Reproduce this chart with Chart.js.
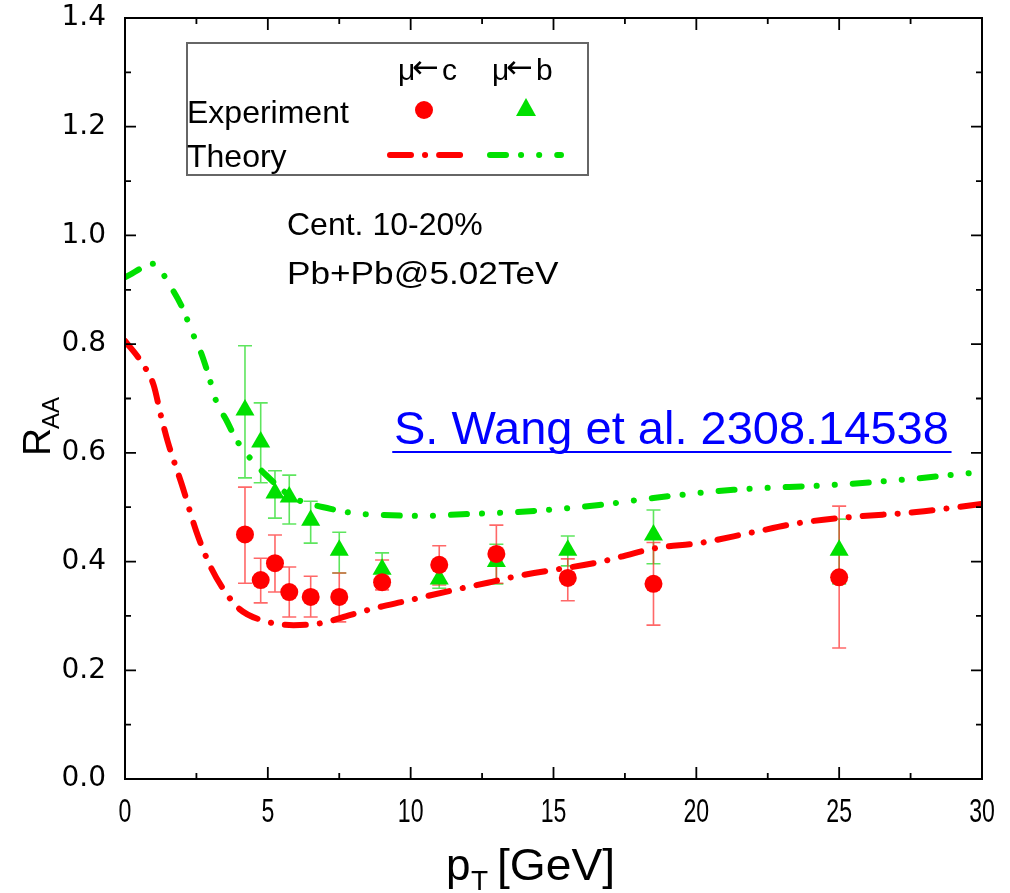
<!DOCTYPE html>
<html>
<head>
<meta charset="utf-8">
<script src="https://cdn.jsdelivr.net/npm/chart.js@4.4.1/dist/chart.umd.min.js"></script>
<style>
  html, body { margin: 0; padding: 0; background: #fff; }
  #wrap { width: 1010px; height: 893px; position: relative; }
</style>
</head>
<body>
<div id="wrap"><canvas id="raaChart" width="1010" height="893"></canvas></div>
<script>
// ---- data ----
const ptExp = [4.2, 4.75, 5.25, 5.75, 6.5, 7.5, 9, 11, 13, 15.5, 18.5, 25];

// mu <- c (red circles)
const raaC   = [0.450, 0.366, 0.397, 0.344, 0.335, 0.335, 0.362, 0.394, 0.414, 0.370, 0.359, 0.371];
const raaCHi = [0.537, 0.406, 0.449, 0.390, 0.373, 0.379, 0.403, 0.429, 0.467, 0.405, 0.435, 0.502];
const raaCLo = [0.360, 0.324, 0.344, 0.298, 0.298, 0.289, 0.348, 0.357, 0.360, 0.328, 0.283, 0.241];

// mu <- b (green triangles)
const raaB   = [0.679, 0.620, 0.526, 0.519, 0.476, 0.421, 0.386, 0.368, 0.400, 0.421, 0.449, 0.421];
const raaBHi = [0.797, 0.692, 0.567, 0.559, 0.511, 0.454, 0.416, 0.392, 0.432, 0.447, 0.495, 0.478];
const raaBLo = [0.554, 0.545, 0.480, 0.469, 0.434, 0.379, 0.353, 0.351, 0.359, 0.392, 0.396, 0.359];

// theory curves
const ptThC  = [0, 0.6, 1.0, 1.25, 1.5, 2.0, 2.5, 3.0, 3.5, 4.0, 4.8, 5.9, 6.9, 7.9, 8.8, 9.8, 10.7, 11.8, 12.7, 13.7, 16.6, 18.6, 20.1, 21.9, 23.6, 25.4, 27.7, 30];
const raaThC = [0.806, 0.765, 0.725, 0.670, 0.620, 0.540, 0.455, 0.390, 0.345, 0.313, 0.292, 0.283, 0.287, 0.302, 0.315, 0.327, 0.338, 0.351, 0.361, 0.373, 0.399, 0.425, 0.434, 0.453, 0.471, 0.482, 0.491, 0.506];

const ptThB  = [0, 1.05, 1.5, 2.0, 2.35, 2.65, 2.9, 3.2, 3.55, 3.9, 4.5, 5.0, 5.5, 5.9, 7.2, 8.0, 8.9, 10.4, 11.8, 12.8, 13.7, 16.6, 18.5, 21.3, 24.8, 27.1, 30];
const raaThB = [0.923, 0.948, 0.914, 0.868, 0.822, 0.786, 0.747, 0.694, 0.660, 0.624, 0.583, 0.556, 0.532, 0.517, 0.497, 0.489, 0.486, 0.484, 0.487, 0.489, 0.491, 0.504, 0.517, 0.532, 0.541, 0.550, 0.565];

const xTicks = [0, 5, 10, 15, 20, 25, 30];
const yTicks = [0.0, 0.2, 0.4, 0.6, 0.8, 1.0, 1.2, 1.4];

const RED = '#ff0000';
const GREEN = '#00e000';
const FONT = '"Liberation Sans", Arial, sans-serif';

const pts = (xs, ys) => xs.map((x, i) => ({ x: x, y: ys[i] }));

// error bars under the markers
const errorBars = {
  id: 'errorBars',
  beforeDatasetsDraw(chart) {
    const { ctx, scales: { x, y } } = chart;
    const sets = [
      { lo: raaBLo, hi: raaBHi, color: 'rgba(40,220,40,0.75)' },
      { lo: raaCLo, hi: raaCHi, color: 'rgba(255,40,40,0.7)' }
    ];
    ctx.save();
    ctx.lineWidth = 1.6;
    sets.forEach(s => {
      ctx.strokeStyle = s.color;
      ptExp.forEach((pt, i) => {
        const px = x.getPixelForValue(pt);
        const y1 = y.getPixelForValue(s.lo[i]);
        const y2 = y.getPixelForValue(s.hi[i]);
        ctx.beginPath();
        ctx.moveTo(px, y1); ctx.lineTo(px, y2);
        ctx.moveTo(px - 7, y1); ctx.lineTo(px + 7, y1);
        ctx.moveTo(px - 7, y2); ctx.lineTo(px + 7, y2);
        ctx.stroke();
      });
    });
    ctx.restore();
  }
};

// box, inward ticks, x labels, legend and notes
const decor = {
  id: 'decor',
  afterDraw(chart) {
    const { ctx, chartArea: a, scales: { x, y } } = chart;
    ctx.save();
    ctx.strokeStyle = '#000';
    ctx.lineWidth = 2;
    ctx.strokeRect(a.left, a.top, a.right - a.left, a.bottom - a.top);

    ctx.lineWidth = 1.8;
    ctx.beginPath();
    for (let v = 0; v <= 30.001; v += 2.5) {
      const px = x.getPixelForValue(v);
      const len = (Math.round(v * 2) % 10 === 0) ? 12 : 6;
      ctx.moveTo(px, a.bottom); ctx.lineTo(px, a.bottom - len);
      ctx.moveTo(px, a.top); ctx.lineTo(px, a.top + len);
    }
    for (let k = 0; k <= 14; k++) {
      const py = y.getPixelForValue(k / 10);
      const len = (k % 2 === 0) ? 11 : 6;
      ctx.moveTo(a.left, py); ctx.lineTo(a.left + len, py);
      ctx.moveTo(a.right, py); ctx.lineTo(a.right - len, py);
    }
    ctx.stroke();

    // x tick labels (narrow, like the original)
    ctx.fillStyle = '#000';
    ctx.font = '33px ' + FONT;
    ctx.textAlign = 'center';
    ctx.textBaseline = 'alphabetic';
    xTicks.forEach(v => {
      ctx.save();
      ctx.translate(x.getPixelForValue(v), 822);
      ctx.scale(0.7, 1);
      ctx.fillText(String(v), 0, 0);
      ctx.restore();
    });

    // axis titles
    ctx.textAlign = 'left';
    ctx.font = '44px ' + FONT;
    ctx.fillText('p', 446, 880);
    ctx.font = '28px ' + FONT;
    ctx.fillText('T', 471, 890);
    ctx.save();
    ctx.translate(497, 880);
    ctx.scale(1.05, 1);
    ctx.font = '44px ' + FONT;
    ctx.fillText('[GeV]', 0, 0);
    ctx.restore();

    ctx.save();
    ctx.translate(50, 456);
    ctx.rotate(-Math.PI / 2);
    ctx.font = '39px ' + FONT;
    ctx.fillText('R', 0, 0);
    ctx.font = '24px ' + FONT;
    ctx.fillText('AA', 27, 9);
    ctx.restore();

    // legend box
    ctx.strokeStyle = '#666';
    ctx.lineWidth = 2;
    ctx.strokeRect(187, 43, 401, 132);
    ctx.fillStyle = '#000';
    const arrowLabel = (x0, letter) => {
      ctx.font = '30px ' + FONT;
      ctx.fillText('\u03bc', x0, 80);
      ctx.font = '32px "DejaVu Sans", sans-serif';
      ctx.fillText('\u2190', x0 + 14, 78);
      ctx.font = '30px ' + FONT;
      ctx.fillText(letter, x0 + 44, 80);
    };
    arrowLabel(398, 'c');
    arrowLabel(492, 'b');
    ctx.font = '32px ' + FONT;
    ctx.fillText('Experiment', 187, 123);
    ctx.fillText('Theory', 187, 167);

    ctx.fillStyle = RED;
    ctx.beginPath(); ctx.arc(424, 110, 9, 0, Math.PI * 2); ctx.fill();
    ctx.fillStyle = GREEN;
    ctx.beginPath();
    ctx.moveTo(526, 98); ctx.lineTo(536, 116); ctx.lineTo(516, 116); ctx.closePath(); ctx.fill();

    ctx.lineWidth = 6;
    ctx.lineCap = 'round';
    ctx.strokeStyle = RED;
    ctx.setLineDash([21, 14, 0.1, 14]);
    ctx.beginPath(); ctx.moveTo(390, 155); ctx.lineTo(461, 155); ctx.stroke();
    ctx.strokeStyle = GREEN;
    ctx.setLineDash([16, 15, 0.1, 18, 0.1, 18]);
    ctx.beginPath(); ctx.moveTo(490, 155); ctx.lineTo(561, 155); ctx.stroke();
    ctx.setLineDash([]);

    // notes
    ctx.fillStyle = '#000';
    ctx.font = '32px ' + FONT;
    ctx.fillText('Cent. 10-20%', 287, 235);
    ctx.save();
    ctx.translate(287, 284);
    ctx.scale(1.1, 1);
    ctx.fillText('Pb+Pb@5.02TeV', 0, 0);
    ctx.restore();

    ctx.fillStyle = '#0000ff';
    ctx.font = '47px ' + FONT;
    const ref = 'S. Wang et al. 2308.14538';
    ctx.fillText(ref, 394, 444);
    const w = ctx.measureText(ref).width;
    ctx.strokeStyle = '#0000ff';
    ctx.lineWidth = 2;
    ctx.beginPath(); ctx.moveTo(393, 452); ctx.lineTo(396 + w, 452); ctx.stroke();
    ctx.restore();
  }
};

new Chart(document.getElementById('raaChart'), {
  type: 'line',
  data: {
    datasets: [
      {
        label: 'mu<-c exp',
        data: pts(ptExp, raaC),
        showLine: false,
        pointStyle: 'circle',
        pointRadius: 9,
        pointBackgroundColor: RED,
        pointBorderWidth: 0
      },
      {
        label: 'mu<-b exp',
        data: pts(ptExp, raaB),
        showLine: false,
        pointStyle: 'triangle',
        pointRadius: 11,
        pointBackgroundColor: GREEN,
        pointBorderWidth: 0
      },
      {
        label: 'mu<-c theory',
        data: pts(ptThC, raaThC),
        borderColor: RED,
        borderWidth: 6,
        borderDash: [21, 14, 0.1, 14],
        borderCapStyle: 'round',
        pointRadius: 0,
        cubicInterpolationMode: 'monotone'
      },
      {
        label: 'mu<-b theory',
        data: pts(ptThB, raaThB),
        borderColor: GREEN,
        borderWidth: 6,
        borderDash: [16, 15, 0.1, 18, 0.1, 18],
        borderCapStyle: 'round',
        pointRadius: 0,
        cubicInterpolationMode: 'monotone'
      }
    ]
  },
  options: {
    responsive: false,
    animation: false,
    layout: { padding: { top: 18, right: 28, left: 0, bottom: 0 } },
    plugins: { legend: { display: false }, tooltip: { enabled: false } },
    scales: {
      x: {
        type: 'linear',
        min: 0, max: 30,
        afterFit: s => { s.height = 114; s.paddingLeft = 0; s.paddingRight = 0; },
        afterBuildTicks: s => { s.ticks = xTicks.map(v => ({ value: v })); },
        grid: { display: false, drawTicks: false },
        border: { display: false },
        ticks: { display: false }
      },
      y: {
        type: 'linear',
        min: 0, max: 1.4,
        afterFit: s => { s.width = 125; s.paddingTop = 0; s.paddingBottom = 0; },
        afterBuildTicks: s => { s.ticks = yTicks.map(v => ({ value: v })); },
        grid: { display: false, drawTicks: false },
        border: { display: false },
        ticks: {
          color: '#000', padding: 19,
          font: { size: 28, family: '"DejaVu Sans", sans-serif' },
          callback: v => Number(v).toFixed(1)
        }
      }
    }
  },
  plugins: [errorBars, decor]
});
</script>
</body>
</html>
